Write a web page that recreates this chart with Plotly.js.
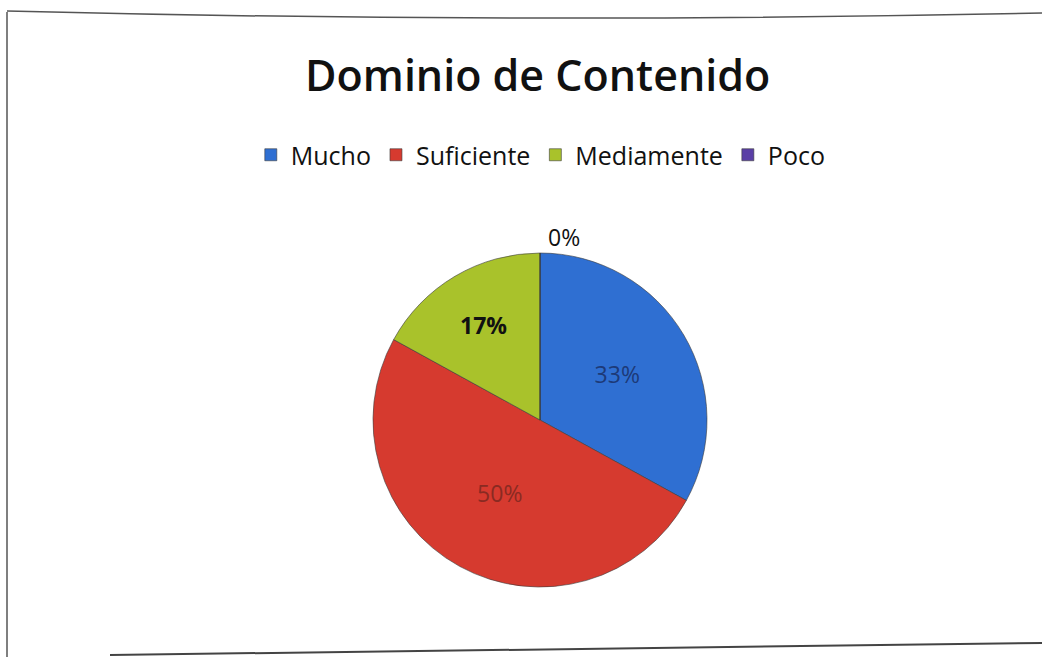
<!DOCTYPE html>
<html>
<head>
<meta charset="utf-8">
<script src="https://cdn.plot.ly/plotly-3.0.1.min.js"></script>
<style>html,body{margin:0;padding:0;background:#fff;}#chart{width:1042px;height:657px;}</style>
</head>
<body>
<div id="chart"></div>
<script>
const categories = ["Mucho", "Suficiente", "Mediamente", "Poco"];
const values = [33, 50, 17, 0];
const sliceColors = ["#2f6fd2", "#d63a2f", "#a9c22b", "#5a3fa6"];
const labelColors = ["#1d3a78", "#8a2a22", "#111111", "#111111"];
const labelWeights = [400, 400, 700, 400];

const W = 1042, H = 657;
const FONT = "'Open Sans', 'Noto Sans', sans-serif";
const data = [{
  type: "pie",
  labels: categories,
  values: values,
  sort: false,
  direction: "clockwise",
  rotation: 0,
  marker: {colors: sliceColors, line: {color: "#3a3a3a", width: 0.6}},
  texttemplate: "%{percent:.0%}",
  textposition: ["inside", "inside", "inside", "outside"],
  textfont: {family: FONT, size: 23, color: labelColors, weight: labelWeights},
  insidetextorientation: "horizontal",
  hoverinfo: "label+percent",
  domain: {x: [373 / W, 707 / W], y: [(H - 590) / H, (H - 250) / H]},
  showlegend: true
}];

const layout = {
  width: W, height: H,
  margin: {l: 0, r: 0, t: 0, b: 0},
  paper_bgcolor: "#ffffff",
  font: {family: FONT, color: "#111"},
  title: {
    text: "Dominio de Contenido",
    font: {family: FONT, size: 43, color: "#111", weight: 600},
    x: 0.516, xanchor: "center", y: 1 - 76 / H, yanchor: "middle"
  },
  legend: {
    orientation: "h", x: 0.519, xanchor: "center", y: 1 - 155 / H, yanchor: "middle",
    font: {family: FONT, size: 25, color: "#111"}, itemwidth: 30, traceorder: "normal"
  },
  shapes: [
    {type: "line", xref: "paper", yref: "paper", x0: 7 / W, x1: 7 / W, y0: 0, y1: 1 - 12 / H, line: {color: "#555", width: 1.5}},
    {type: "path", xref: "paper", yref: "paper", path: "M " + (7 / W) + " " + (1 - 11 / H) + " Q 0.5 " + (1 - 24 / H) + " 1 " + (1 - 13 / H), line: {color: "#555", width: 1.5}},
    {type: "line", xref: "paper", yref: "paper", x0: 110 / W, x1: 1, y0: 2 / H, y1: 14 / H, line: {color: "#444", width: 2}}
  ]
};

Plotly.newPlot("chart", data, layout, {displayModeBar: false, staticPlot: true});
</script>
</body>
</html>
